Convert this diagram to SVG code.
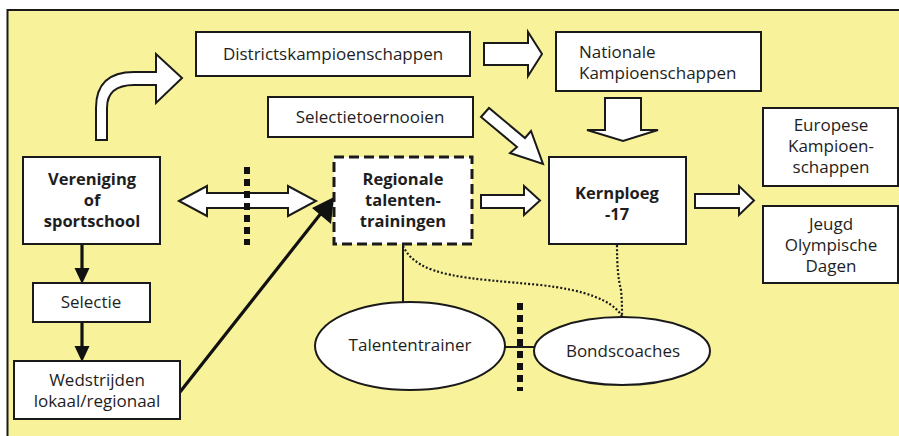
<svg xmlns="http://www.w3.org/2000/svg" width="899" height="436" viewBox="0 0 899 436">
  <style>
    .box { fill: #ffffff; stroke: #1a1a1a; stroke-width: 2; }
    .dash { fill: #ffffff; stroke: #1a1a1a; stroke-width: 3; stroke-dasharray: 10 5; }
    .blk { fill: #ffffff; stroke: #1a1a1a; stroke-width: 2; stroke-linejoin: miter; }
    .t { font-family: "Open Sans", "Noto Sans", sans-serif; font-size: 17px; fill: #1e1e1e; }
    .b { font-weight: bold; font-size: 16.5px; }
    .mid { text-anchor: middle; }
    .dots { fill: none; stroke: #1a1a1a; stroke-width: 2.2; stroke-dasharray: 2 2; }
    .bar { fill: none; stroke: #111; stroke-width: 6; stroke-dasharray: 7 5; }
    .solid { fill: none; stroke: #1a1a1a; stroke-width: 2; }
    .thick { fill: none; stroke: #111; stroke-width: 3.2; }
  </style>

  <!-- panel -->
  <rect x="0" y="0" width="899" height="436" fill="#ffffff"/>
  <rect x="7.5" y="10" width="900" height="440" fill="#f8f39b" stroke="#1a1a1a" stroke-width="2"/>

  <!-- connectors -->
  <g id="connectors">
    <!-- curved block arrow: Vereniging -> Districtskampioenschappen -->
    <path class="blk" d="M96,140 L96,108 Q96,72 134,72 L156,72 L156,54 L182,78 L156,103 L156,85 L134,85 Q107,85 107,108 L107,140 Z"/>
    <!-- Districts -> Nationale -->
    <path class="blk" d="M484,43 L528,43 L528,32 L542,54 L528,76 L528,65 L484,65 Z"/>
    <!-- Nationale -> Kernploeg (down) -->
    <path class="blk" d="M605,98 L641,98 L641,130 L658,130 L623,141 L587,130 L605,130 Z"/>
    <!-- Selectietoernooien -> Kernploeg (diagonal) -->
    <path class="blk" d="M481,117 L489,108 L525,138 L531,131 L543,164 L510,153 L517,147 Z"/>
    <!-- Regionale -> Kernploeg -->
    <path class="blk" d="M481,195 L524,195 L524,186 L540,200.5 L524,215 L524,208 L481,208 Z"/>
    <!-- Kernploeg -> Europese / Jeugd -->
    <path class="blk" d="M695,194 L739,194 L739,186 L754,200.5 L739,215 L739,208 L695,208 Z"/>
    <!-- double arrow Vereniging <-> Regionale -->
    <path class="blk" d="M179,201 L207,186 L207,193 L288,193 L288,186 L316,201 L288,216 L288,208 L207,208 L207,216 Z"/>
    <!-- barrier bars -->
    <line class="bar" x1="247" y1="167" x2="247" y2="245"/>
    <line class="bar" x1="520" y1="303" x2="520" y2="391"/>

    <!-- Vereniging -> Selectie -> Wedstrijden -->
    <line class="thick" x1="82" y1="244" x2="82" y2="270"/>
    <polygon points="74.5,268 89.5,268 82,284" fill="#111"/>
    <line class="thick" x1="82" y1="322" x2="82" y2="348"/>
    <polygon points="74.5,346 89.5,346 82,362" fill="#111"/>
    <!-- Wedstrijden -> Regionale -->
    <line class="thick" x1="180" y1="392" x2="322" y2="212"/>
    <polygon points="334,197 331,224 312,208" fill="#111"/>

    <!-- Regionale - Talententrainer -->
    <line class="solid" x1="403" y1="245" x2="403" y2="302"/>
    <!-- Talententrainer - Bondscoaches -->
    <line class="solid" x1="505" y1="347" x2="535" y2="347"/>
    <!-- dotted links to Bondscoaches -->
    <path class="dots" d="M403,246 C418,278 470,278 540,285 C585,290 612,300 622,316"/>
    <path class="dots" d="M617,245 C617,265 618,278 621,290 C622,300 622,308 622,317"/>
  </g>

  <!-- nodes -->
  <g id="districtskampioenschappen">
    <rect class="box" x="196" y="32" width="274" height="44"/>
    <text class="t mid" x="333" y="60">Districtskampioenschappen</text>
  </g>
  <g id="selectietoernooien">
    <rect class="box" x="268" y="97" width="205" height="40"/>
    <text class="t mid" x="370" y="123">Selectietoernooien</text>
  </g>
  <g id="nationale-kampioenschappen">
    <rect class="box" x="556" y="32" width="205" height="59"/>
    <text class="t" x="579" y="58">Nationale</text>
    <text class="t" x="579" y="79">Kampioenschappen</text>
  </g>
  <g id="kernploeg">
    <rect class="box" x="549" y="157" width="137" height="87"/>
    <text class="t b mid" x="617" y="199">Kernploeg</text>
    <text class="t b mid" x="617" y="220">-17</text>
  </g>
  <g id="europese-kampioenschappen">
    <rect class="box" x="763" y="108" width="135" height="78"/>
    <text class="t mid" x="831" y="131">Europese</text>
    <text class="t mid" x="831" y="152">Kampioen-</text>
    <text class="t mid" x="831" y="173">schappen</text>
  </g>
  <g id="jeugd-olympische-dagen">
    <rect class="box" x="763" y="206" width="135" height="77"/>
    <text class="t mid" x="831" y="230">Jeugd</text>
    <text class="t mid" x="831" y="251">Olympische</text>
    <text class="t mid" x="831" y="272">Dagen</text>
  </g>
  <g id="vereniging">
    <rect class="box" x="23" y="157" width="137" height="87"/>
    <text class="t b mid" x="92" y="185">Vereniging</text>
    <text class="t b mid" x="92" y="206">of</text>
    <text class="t b mid" x="92" y="227">sportschool</text>
  </g>
  <g id="selectie">
    <rect class="box" x="33" y="283" width="117" height="39"/>
    <text class="t mid" x="91" y="308">Selectie</text>
  </g>
  <g id="wedstrijden">
    <rect class="box" x="14" y="361" width="166" height="58"/>
    <text class="t mid" x="97" y="386">Wedstrijden</text>
    <text class="t mid" x="97" y="407">lokaal/regionaal</text>
  </g>
  <g id="regionale-talententrainingen">
    <rect class="dash" x="334" y="157" width="138" height="87"/>
    <text class="t b mid" x="403" y="185">Regionale</text>
    <text class="t b mid" x="403" y="206">talenten-</text>
    <text class="t b mid" x="403" y="227">trainingen</text>
  </g>
  <g id="talententrainer">
    <ellipse class="box" cx="410" cy="346" rx="95" ry="44"/>
    <text class="t mid" x="410" y="351">Talententrainer</text>
  </g>
  <g id="bondscoaches">
    <ellipse class="box" cx="622" cy="351" rx="88" ry="34"/>
    <text class="t mid" x="623" y="357">Bondscoaches</text>
  </g>
</svg>
